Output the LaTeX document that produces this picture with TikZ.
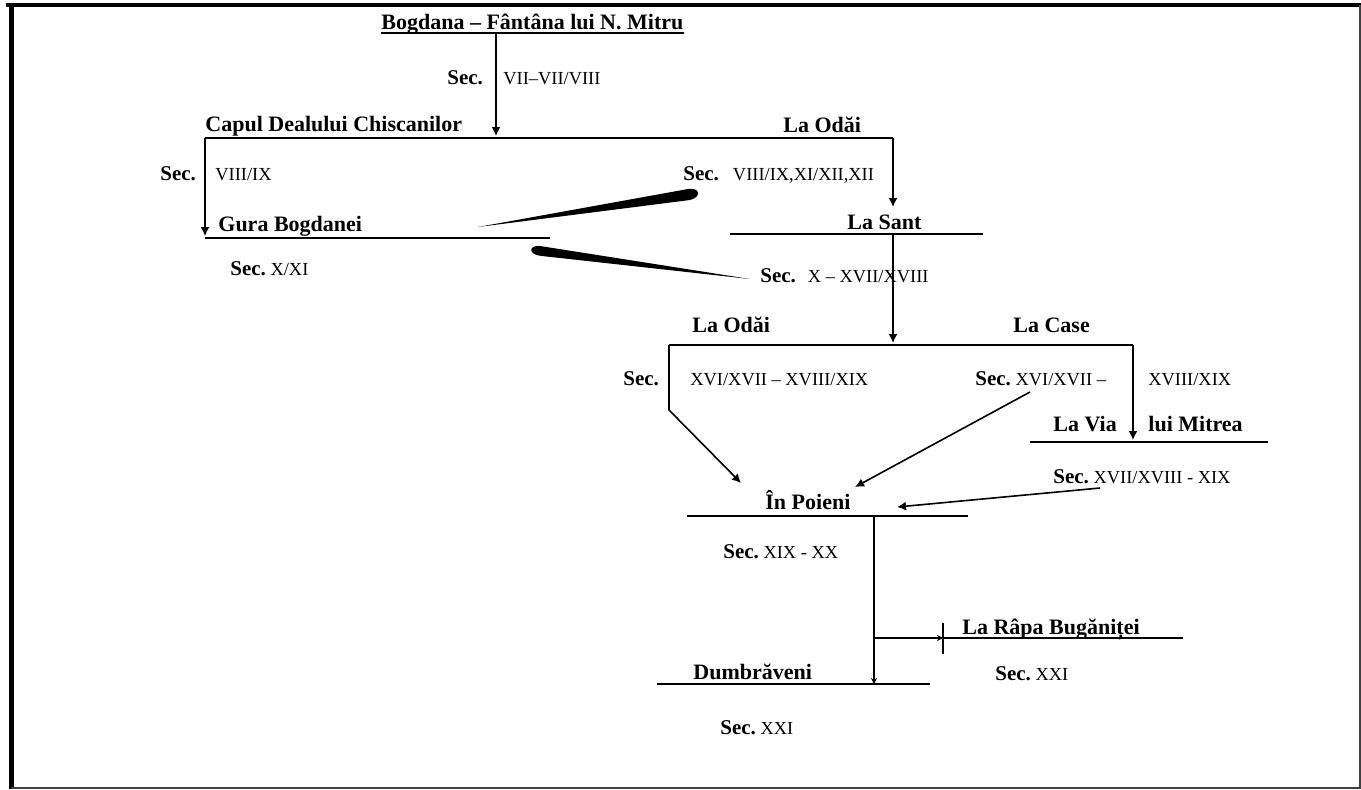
\documentclass[tikz,border=0pt]{standalone}
\usepackage{fontspec}
\setmainfont{Liberation Serif}
\usetikzlibrary{arrows.meta}

\begin{document}
\begin{tikzpicture}[x=0.5pt,y=-0.5pt]
% Styles (MODIFIABLES)
\tikzstyle{fleche}=[-{Latex[length=4.5pt,width=4.5pt]},line width=0.8pt]
\tikzstyle{petitefleche}=[-{Stealth[length=3pt,width=3pt]},line width=0.8pt]
\tikzstyle{trait}=[line width=0.8pt]
\tikzstyle{lieu}=[inner sep=0pt,anchor=base west,font=\fontsize{11}{13}\selectfont\bfseries]
\tikzstyle{siecle}=[inner sep=0pt,anchor=base west,font=\fontsize{9.2}{11}\selectfont]
\def\Sec{{\fontsize{10.5}{12}\selectfont\bfseries Sec.}}
% Cadre
\useasboundingbox (0,0) rectangle (1361,789);
\draw[line width=2.2pt] (6,5) -- (1361,5);
\draw[line width=2.5pt] (11,3) -- (11,789);
\draw[black!75,line width=1pt] (11,788) -- (1360,788) -- (1360,5);
% Noeuds (MODIFIABLES)
\node[lieu] (bogdana) at (381,29) {Bogdana – Fântâna lui N. Mitru};
\node[lieu] (capul) at (205,131) {Capul Dealului Chiscanilor};
\node[lieu] (odai) at (783,132) {La Odăi};
\node[lieu] (gura) at (218,231) {Gura Bogdanei};
\node[lieu] (sant) at (847,229) {La Sant};
\node[lieu] (odaib) at (692,332) {La Odăi};
\node[lieu] (case) at (1013,332) {La Case};
\node[lieu] (via) at (1053,431) {La Via};
\node[lieu] (mitrea) at (1148,431) {lui Mitrea};
\node[lieu] (poieni) at (765,509) {În Poieni};
\node[lieu] (rapa) at (962,634) {La Râpa Bugăniței};
\node[lieu] (dumbraveni) at (693,679) {Dumbrăveni};
% Siecles
\node[siecle] (s1) at (447,84) {\Sec};
\node[siecle] (n1) at (503,84) {VII–VII/VIII};
\node[siecle] (s2) at (160,180) {\Sec};
\node[siecle] (n2) at (215,180) {VIII/IX};
\node[siecle] (s3) at (683,180) {\Sec\hspace{7pt}VIII/IX,XI/XII,XII};
\node[siecle] (s4) at (230,275) {\Sec\ X/XI};
\node[siecle] (s5) at (760,282) {\Sec\hspace{6pt}X – XVII/XVIII};
\node[siecle] (s6) at (623,385) {\Sec};
\node[siecle] (n6) at (690,385) {XVI/XVII – XVIII/XIX};
\node[siecle] (s7) at (975,385) {\Sec\ XVI/XVII –};
\node[siecle] (n7) at (1148,385) {XVIII/XIX};
\node[siecle] (s8) at (1053,483) {\Sec\ XVII/XVIII - XIX};
\node[siecle] (s9) at (723,558) {\Sec\ XIX - XX};
\node[siecle] (s10) at (995,680) {\Sec\ XXI};
\node[siecle] (s11) at (720,734) {\Sec\ XXI};
% Points des lignes
\coordinate (t0) at (496,33);
\coordinate (c1g) at (205,138); \coordinate (c1m) at (496,138); \coordinate (c1d) at (893,138);
\coordinate (o1) at (893,207);
\coordinate (g1g) at (205,238); \coordinate (g1d) at (550,238);
\coordinate (s1g) at (730,234); \coordinate (s1m) at (893,234); \coordinate (s1d) at (983,234);
\coordinate (o2g) at (669,345); \coordinate (o2m) at (893,345); \coordinate (o2d) at (1133,345);
\coordinate (k1) at (669,410);
\coordinate (v1g) at (1030,442); \coordinate (v1m) at (1133,442); \coordinate (v1d) at (1268,442);
\coordinate (m1) at (1030,392);
\coordinate (x1) at (1100,488);
\coordinate (p1g) at (687,516); \coordinate (p1m) at (874,516); \coordinate (p1d) at (968,516);
\coordinate (p1a) at (741,483); \coordinate (p1b) at (855,487); \coordinate (p1c) at (897,507);
\coordinate (r1g) at (874,638); \coordinate (r1b) at (943,638); \coordinate (r1d) at (1183,638);
\coordinate (d1g) at (657,684); \coordinate (d1m) at (874,684); \coordinate (d1d) at (930,684);
% Lignes
\draw[trait] ([yshift=-2pt]bogdana.base west) -- ([yshift=-2pt]bogdana.base east);
\draw[trait] (c1g) -- (c1d);
\draw[trait] (g1g) -- (g1d);
\draw[trait] (s1g) -- (s1d);
\draw[trait] (o2g) -- (o2d);
\draw[trait] (v1g) -- (v1d);
\draw[trait] (p1g) -- (p1d);
\draw[trait] (r1g) -- (r1d);
\draw[trait] (d1g) -- (d1d);
% Arcs (MODIFIABLES)
\draw[fleche] (t0) -- ([yshift=1pt]c1m);
\draw[fleche] (c1g) -- ([yshift=1pt]g1g);
\draw[fleche] (c1d) -- (o1);
\draw[fleche] (s1m) -- ([yshift=1pt]o2m);
\draw[fleche] (o2g) -- (k1) -- (p1a);
\draw[fleche] (m1) -- (p1b);
\draw[fleche] (o2d) -- ([yshift=1pt]v1m);
\draw[fleche] (x1) -- (p1c);
\draw[petitefleche] (p1m) -- (d1m);
\draw[petitefleche] (r1g) -- (r1b);
\draw[trait] ([yshift=7.5pt]r1b) -- ([yshift=-8pt]r1b);
% Pointes
\fill (478,227) -- (688,189) .. controls (700,187) and (702,197) .. (690,200) -- cycle;
\fill (750,279) -- (540,246) .. controls (528,245) and (528,255) .. (542,256) -- cycle;
\end{tikzpicture}
\end{document}
